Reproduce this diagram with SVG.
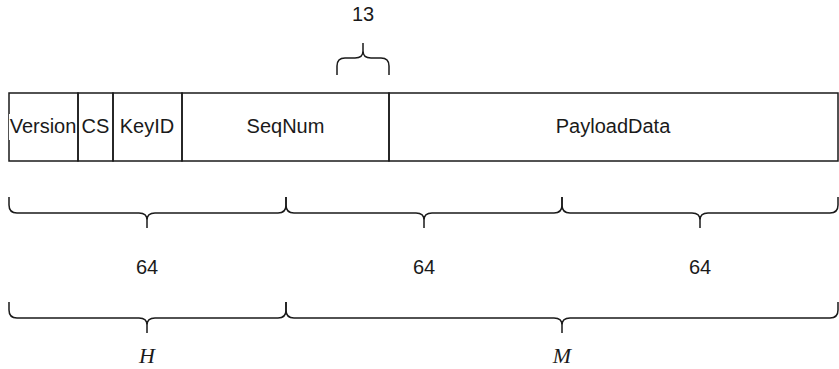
<svg xmlns="http://www.w3.org/2000/svg" width="839" height="369" viewBox="0 0 839 369">
<style>
.ln{fill:none;stroke:#1a1a1a;stroke-width:1.5}
.t{font-family:"Liberation Sans",Arial,sans-serif;font-size:20px;fill:#1a1a1a;text-anchor:middle}
.m{font-family:"Liberation Serif","Times New Roman",serif;font-style:italic;font-size:22px;fill:#1a1a1a;text-anchor:middle}
</style>
<rect width="839" height="369" fill="#fff"/>
<g id="version"><rect x="9" y="93" width="69" height="68" class="ln"/><rect x="9" y="114" width="68" height="26" fill="#fff"/><text class="t" x="43" y="133">Version</text></g>
<g id="cs"><rect x="78" y="93" width="35" height="68" class="ln"/><text class="t" x="95.5" y="133">CS</text></g>
<g id="keyid"><rect x="113" y="93" width="69" height="68" class="ln"/><text class="t" x="147" y="133">KeyID</text></g>
<g id="seqnum"><rect x="182" y="93" width="207" height="68" class="ln"/><text class="t" x="285.5" y="133">SeqNum</text></g>
<g id="payload"><rect x="389" y="93" width="449" height="68" class="ln"/><text class="t" x="613" y="133">PayloadData</text></g>
<g id="braces">
<path class="ln" d="M337,75 L337,66 Q337,58 345,58 L355,58 Q363,58 363,51 L363,43 M363,51 Q363,58 371,58 L381,58 Q389,58 389,66 L389,75"/>
<path class="ln" d="M9,197 L9,205 Q9,213 17,213 L139,213 Q147,213 147,220 L147,228 M147,220 Q147,213 155,213 L278,213 Q286,213 286,205 L286,197"/>
<path class="ln" d="M286,197 L286,205 Q286,213 294,213 L416,213 Q424,213 424,220 L424,228 M424,220 Q424,213 432,213 L554,213 Q562,213 562,205 L562,197"/>
<path class="ln" d="M562,197 L562,205 Q562,213 570,213 L692,213 Q700,213 700,220 L700,228 M700,220 Q700,213 708,213 L830,213 Q838,213 838,205 L838,197"/>
<path class="ln" d="M9,302 L9,310 Q9,318 17,318 L139,318 Q147,318 147,325 L147,333 M147,325 Q147,318 155,318 L278,318 Q286,318 286,310 L286,302"/>
<path class="ln" d="M286,302 L286,310 Q286,318 294,318 L554,318 Q562,318 562,325 L562,333 M562,325 Q562,318 570,318 L830,318 Q838,318 838,310 L838,302"/>
</g>
<g id="labels">
<text class="t" x="363" y="21">13</text>
<text class="t" x="147" y="274">64</text>
<text class="t" x="424" y="274">64</text>
<text class="t" x="700" y="274">64</text>
<text class="m" x="147" y="363">H</text>
<text class="m" x="562" y="363">M</text>
</g>
</svg>
